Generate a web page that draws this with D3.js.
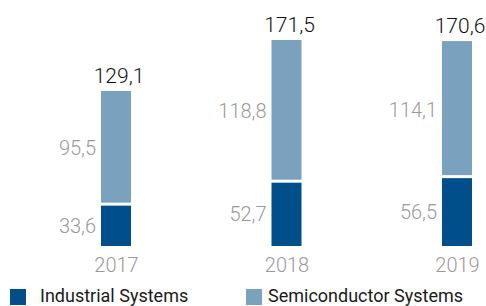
<!DOCTYPE html>
<html>
<head>
    <meta charset="utf-8">
    <script src="https://d3js.org/d3.v7.min.js"></script>
    <style>
        body { margin: 0; background: #fff; }
        text { font-family: Roboto, "Liberation Sans", sans-serif; }
    </style>
</head>
<body>
    <div id="chart"></div>

    <script>
        const years = ["2017", "2018", "2019"];
        const industrial = [33.6, 52.7, 56.5];
        const semiconductor = [95.5, 118.8, 114.1];
        const totals = [129.1, 171.5, 170.6];
        const seriesNames = ["Industrial Systems", "Semiconductor Systems"];

        const colors = ["#004f8b", "#7aa2bf"];
        const fmt = v => v.toFixed(1).replace(".", ",");

        const width = 486, height = 306;
        const baseline = 246;
        const barWidth = 30;
        const gap = 3;

        const svg = d3.select("#chart").append("svg")
            .attr("width", width)
            .attr("height", height);

        const x = d3.scalePoint()
            .domain(years)
            .range([116, 457]);

        const y = d3.scaleLinear()
            .domain([0, d3.max(totals)])
            .range([baseline, 40]);

        const rows = years.map((yr, i) => ({
            year: yr, ind: industrial[i], semi: semiconductor[i], total: totals[i]
        }));

        const bars = svg.selectAll(".bar")
            .data(rows)
            .join("g")
              .attr("class", "bar");

        // Industrial (bottom)
        bars.append("rect")
            .attr("x", d => x(d.year) - barWidth / 2)
            .attr("width", barWidth)
            .attr("y", d => y(d.ind))
            .attr("height", d => y(0) - y(d.ind))
            .attr("fill", colors[0]);

        // Semiconductor (top), white gap between segments
        bars.append("rect")
            .attr("x", d => x(d.year) - barWidth / 2)
            .attr("width", barWidth)
            .attr("y", d => y(d.total))
            .attr("height", d => y(d.ind) - y(d.total) - gap)
            .attr("fill", colors[1]);

        // segment labels
        bars.append("text")
            .attr("x", d => x(d.year) - barWidth / 2 - 5)
            .attr("y", d => (y(0) + y(d.ind)) / 2)
            .attr("dy", "0.35em")
            .attr("text-anchor", "end")
            .attr("font-size", 20)
            .attr("font-weight", 300)
            .attr("fill", "#9a9a9a")
            .text(d => fmt(d.ind));

        bars.append("text")
            .attr("x", d => x(d.year) - barWidth / 2 - 5)
            .attr("y", d => (y(d.ind) + y(d.total)) / 2)
            .attr("dy", "0.35em")
            .attr("text-anchor", "end")
            .attr("font-size", 20)
            .attr("font-weight", 300)
            .attr("fill", "#9a9a9a")
            .text(d => fmt(d.semi));

        // totals
        bars.append("text")
            .attr("x", d => x(d.year) + 3)
            .attr("y", d => y(d.total) - 8)
            .attr("text-anchor", "middle")
            .attr("font-size", 21)
            .attr("font-weight", 300)
            .attr("fill", "#111")
            .text(d => fmt(d.total));

        // year axis
        const axis = svg.append("g")
            .attr("transform", "translate(0," + baseline + ")")
            .call(d3.axisBottom(x).tickSize(0).tickPadding(12));
        axis.select(".domain").remove();
        axis.selectAll("text")
            .attr("font-size", 20)
            .attr("font-weight", 300)
            .attr("font-family", "Roboto, sans-serif")
            .attr("fill", "#9a9a9a");

        // legend
        const legendX = [10, 246];
        const legendTextX = [30, 22];
        const legend = svg.selectAll(".legend")
            .data(seriesNames)
            .join("g")
              .attr("class", "legend")
              .attr("transform", (d, i) => "translate(" + legendX[i] + ",289)");

        legend.append("rect")
            .attr("width", 16)
            .attr("height", 16)
            .attr("fill", (d, i) => colors[i]);

        legend.append("text")
            .attr("x", (d, i) => legendTextX[i])
            .attr("y", 12.5)
            .attr("font-size", 18)
            .attr("fill", "#1a1a1a")
            .text(d => d);
    </script>
</body>
</html>
